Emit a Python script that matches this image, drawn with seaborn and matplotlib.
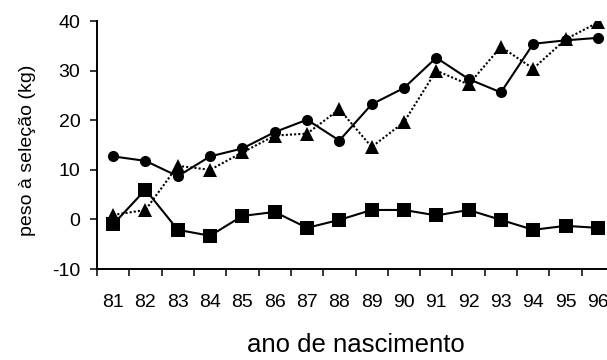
import matplotlib
matplotlib.use("Agg")
import matplotlib.pyplot as plt
from matplotlib.ticker import FixedLocator, NullFormatter, FixedFormatter
import numpy as np
import pandas as pd
import seaborn as sns

# birth years (two-digit labels)
anos = ["81", "82", "83", "84", "85", "86", "87", "88",
        "89", "90", "91", "92", "93", "94", "95", "96"]

# weight at selection (kg) for the three series
circulos = [12.7, 11.8, 8.7, 12.7, 14.3, 17.6, 20.1, 15.9,
            23.2, 26.5, 32.6, 28.3, 25.6, 35.4, 36.1, 36.6]
triangulos = [0.9, 1.9, 10.8, 10.0, 13.5, 16.9, 17.3, 22.2,
              14.6, 19.6, 30.0, 27.2, 34.8, 30.4, 36.3, 39.7]
quadrados = [-1.0, 6.0, -2.1, -3.3, 0.7, 1.5, -1.7, -0.1,
             1.9, 1.9, 0.8, 1.9, -0.1, -2.1, -1.3, -1.7]

y_ticks = [-10, 0, 10, 20, 30, 40]

sns.set_style("white")
plt.rcParams["font.family"] = ["Liberation Sans", "DejaVu Sans"]

pos = np.arange(len(anos))
df = pd.DataFrame({"pos": pos, "circ": circulos, "tri": triangulos, "quad": quadrados})

fig = plt.figure(figsize=(6.07, 3.60), dpi=100)
ax = fig.add_axes([97 / 607, 91 / 360, 517 / 607, 248 / 360])

sns.lineplot(data=df, x="pos", y="tri", ax=ax, color="black", linewidth=1.5,
             linestyle=(0, (1, 1)), marker="^", markersize=9.5,
             markeredgecolor="black", markeredgewidth=0, zorder=2)
sns.lineplot(data=df, x="pos", y="quad", ax=ax, color="black", linewidth=1.5,
             linestyle="-", marker="s", markersize=9.5,
             markeredgecolor="black", markeredgewidth=0, zorder=3)
sns.lineplot(data=df, x="pos", y="circ", ax=ax, color="black", linewidth=1.5,
             linestyle="-", marker="o", markersize=8,
             markeredgecolor="black", markeredgewidth=0, zorder=4)

ax.set_xlim(-0.5, len(anos) - 0.5)
ax.set_ylim(-10, 40)
ax.set_yticks(y_ticks)
ax.set_yticklabels([str(t) for t in y_ticks])

# tick marks between categories, labels at category centres
ax.xaxis.set_major_locator(FixedLocator(np.arange(-0.5, len(anos), 1.0)))
ax.xaxis.set_major_formatter(NullFormatter())
ax.xaxis.set_minor_locator(FixedLocator(pos))
ax.xaxis.set_minor_formatter(FixedFormatter(anos))

ax.tick_params(axis="x", which="major", direction="out", length=5, width=1.1,
               color="black", bottom=True)
ax.tick_params(axis="x", which="minor", length=0, pad=18, labelsize=14,
               labelcolor="black", bottom=True)
ax.tick_params(axis="y", which="major", direction="out", length=5, width=1.1,
               color="black", pad=7, labelsize=14, labelcolor="black", left=True)

for side in ["top", "right"]:
    ax.spines[side].set_visible(False)
for side in ["left", "bottom"]:
    ax.spines[side].set_color("black")
    ax.spines[side].set_linewidth(1.4)

ax.set_xlabel("ano de nascimento", fontsize=18.5, color="black")
ax.xaxis.set_label_coords(0.5, -0.26)
ax.set_ylabel("peso à seleção (kg)", fontsize=14, color="black")
ax.yaxis.set_label_coords(-0.118, 0.48)

fig.savefig("out.png", dpi=100)
